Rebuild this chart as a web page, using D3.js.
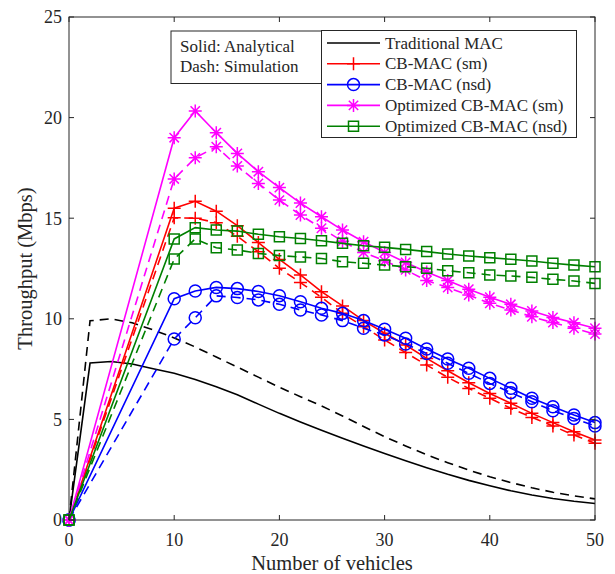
<!DOCTYPE html>
<html>
<head>
<meta charset="utf-8">
<script src="https://cdn.jsdelivr.net/npm/d3@7/dist/d3.min.js"></script>
<style>
  body { margin: 0; background: #fff; }
  text { font-family: "Liberation Serif", "Times New Roman", serif; fill: #262626; }
</style>
</head>
<body>
<div id="chart"></div>
<script>
// x positions
var vehicles = [0, 10, 12, 14, 16, 18, 20, 22, 24, 26, 28, 30, 32, 34, 36, 38, 40, 42, 44, 46, 48, 50];
var tradVehicles = [0, 2, 4, 6, 8, 10, 12, 14, 16, 18, 20, 22, 24, 26, 28, 30, 32, 34, 36, 38, 40, 42, 44, 46, 48, 50];

// Traditional MAC
var tradAna = [0, 7.8, 7.88, 7.75, 7.52, 7.29, 6.98, 6.62, 6.22, 5.76, 5.3, 4.87, 4.46, 4.06, 3.68, 3.31, 2.95, 2.6, 2.27, 1.97, 1.7, 1.45, 1.24, 1.07, 0.93, 0.82];
var tradSim = [0, 9.9, 10.0, 9.8, 9.45, 9.05, 8.6, 8.1, 7.6, 7.1, 6.6, 6.13, 5.67, 5.17, 4.65, 4.14, 3.68, 3.24, 2.85, 2.48, 2.15, 1.86, 1.6, 1.38, 1.2, 1.05];

// CB-MAC (sm)
var smAna = [0, 15.5, 15.84, 15.35, 14.63, 13.79, 12.95, 12.18, 11.35, 10.64, 9.91, 9.28, 8.7, 8.03, 7.42, 6.82, 6.29, 5.8, 5.3, 4.84, 4.39, 3.98];
var smSim = [0, 15.02, 15.0, 14.78, 14.1, 13.33, 12.51, 11.8, 11.07, 10.27, 9.61, 8.95, 8.32, 7.7, 7.09, 6.54, 6.05, 5.55, 5.1, 4.67, 4.22, 3.81];

// CB-MAC (nsd)
var nsdAna = [0, 11.0, 11.38, 11.56, 11.5, 11.36, 11.15, 10.85, 10.52, 10.27, 9.91, 9.48, 9.03, 8.5, 8.0, 7.54, 7.04, 6.55, 6.05, 5.63, 5.22, 4.84];
var nsdSim = [0, 9.0, 10.05, 11.14, 11.06, 10.94, 10.72, 10.44, 10.19, 9.91, 9.53, 9.2, 8.75, 8.28, 7.79, 7.29, 6.79, 6.33, 5.88, 5.43, 5.05, 4.67];

// Optimized CB-MAC (sm)
var optSmAna = [0, 19.0, 20.33, 19.25, 18.22, 17.31, 16.52, 15.75, 15.07, 14.41, 13.83, 13.3, 12.8, 12.33, 11.9, 11.47, 11.07, 10.72, 10.39, 10.07, 9.8, 9.53];
var optSmSim = [0, 16.95, 18.0, 18.55, 17.6, 16.73, 15.9, 15.16, 14.5, 13.85, 13.3, 12.88, 12.43, 11.9, 11.55, 11.18, 10.77, 10.44, 10.1, 9.81, 9.53, 9.24];

// Optimized CB-MAC (nsd)
var optNsdAna = [0, 13.97, 14.53, 14.41, 14.36, 14.2, 14.08, 13.99, 13.88, 13.75, 13.63, 13.55, 13.45, 13.34, 13.22, 13.12, 13.04, 12.96, 12.87, 12.76, 12.67, 12.59];
var optNsdSim = [0, 12.97, 13.97, 13.53, 13.42, 13.25, 13.14, 13.07, 13.0, 12.84, 12.76, 12.67, 12.59, 12.51, 12.39, 12.29, 12.18, 12.13, 12.06, 11.96, 11.88, 11.76];

var xTicks = [0, 10, 20, 30, 40, 50];
var yTicks = [0, 5, 10, 15, 20, 25];
var legendNames = ["Traditional MAC", "CB-MAC (sm)", "CB-MAC (nsd)", "Optimized CB-MAC (sm)", "Optimized CB-MAC (nsd)"];
var noteLines = ["Solid: Analytical", "Dash: Simulation"];

var W = 615, H = 574;
var margin = {top: 17, right: 20, bottom: 54, left: 69};
var width = W - margin.left - margin.right,
    height = H - margin.top - margin.bottom;

var svg = d3.select("#chart").append("svg")
    .attr("width", W).attr("height", H);

var g = svg.append("g")
    .attr("transform", "translate(" + margin.left + "," + margin.top + ")");

var x = d3.scaleLinear().domain([0, 50]).range([0, width]);
var y = d3.scaleLinear().domain([0, 25]).range([height, 0]);

// marker shapes
function markerPath(type, s) {
  var h = s / 2;
  if (type == "plus") return "M" + (-h) + ",0H" + h + "M0," + (-h) + "V" + h;
  if (type == "star") {
    var d = h * 0.72;
    return "M" + (-h) + ",0H" + h + "M0," + (-h) + "V" + h +
      "M" + (-d) + "," + (-d) + "L" + d + "," + d + "M" + (-d) + "," + d + "L" + d + "," + (-d);
  }
  if (type == "square") return "M" + (-h) + "," + (-h) + "H" + h + "V" + h + "H" + (-h) + "Z";
  if (type == "circle") return "M" + h + ",0A" + h + "," + h + " 0 1,1 " + (-h) + ",0A" + h + "," + h + " 0 1,1 " + h + ",0Z";
  return "";
}

var series = [
  {xs: tradVehicles, ys: tradAna, color: "#000000", dash: null, marker: null},
  {xs: tradVehicles, ys: tradSim, color: "#000000", dash: "9,6", marker: null},
  {xs: vehicles, ys: smAna, color: "#ff0000", dash: null, marker: "plus", size: 13},
  {xs: vehicles, ys: smSim, color: "#ff0000", dash: "9,6", marker: "plus", size: 13},
  {xs: vehicles, ys: nsdAna, color: "#0000ff", dash: null, marker: "circle", size: 12},
  {xs: vehicles, ys: nsdSim, color: "#0000ff", dash: "9,6", marker: "circle", size: 12},
  {xs: vehicles, ys: optSmAna, color: "#ff00ff", dash: null, marker: "star", size: 13},
  {xs: vehicles, ys: optSmSim, color: "#ff00ff", dash: "9,6", marker: "star", size: 13},
  {xs: vehicles, ys: optNsdAna, color: "#008000", dash: null, marker: "square", size: 10},
  {xs: vehicles, ys: optNsdSim, color: "#008000", dash: "9,6", marker: "square", size: 10}
];

var line = d3.line()
    .x(function(d) { return x(d[0]); })
    .y(function(d) { return y(d[1]); });

series.forEach(function(s) {
  var pts = s.xs.map(function(v, i) { return [v, s.ys[i]]; });
  g.append("path")
      .datum(pts)
      .attr("d", line)
      .attr("fill", "none")
      .attr("stroke", s.color)
      .attr("stroke-width", 1.6)
      .attr("stroke-dasharray", s.dash);
  if (s.marker) {
    g.selectAll(null)
      .data(pts)
      .enter()
      .append("path")
        .attr("transform", function(d) { return "translate(" + x(d[0]) + "," + y(d[1]) + ")"; })
        .attr("d", markerPath(s.marker, s.size))
        .attr("fill", "none")
        .attr("stroke", s.color)
        .attr("stroke-width", 1.5);
  }
});

// axes box with inward ticks on all sides
var axisColor = "#262626";
g.append("rect")
    .attr("width", width).attr("height", height)
    .attr("fill", "none").attr("stroke", axisColor).attr("stroke-width", 1);

var tl = 5;
xTicks.forEach(function(t) {
  g.append("line").attr("x1", x(t)).attr("x2", x(t)).attr("y1", height).attr("y2", height - tl).attr("stroke", axisColor);
  g.append("line").attr("x1", x(t)).attr("x2", x(t)).attr("y1", 0).attr("y2", tl).attr("stroke", axisColor);
  g.append("text").attr("x", x(t)).attr("y", height + 26)
    .attr("text-anchor", "middle").attr("font-size", 18).text(t);
});
yTicks.forEach(function(t) {
  g.append("line").attr("x1", 0).attr("x2", tl).attr("y1", y(t)).attr("y2", y(t)).attr("stroke", axisColor);
  g.append("line").attr("x1", width).attr("x2", width - tl).attr("y1", y(t)).attr("y2", y(t)).attr("stroke", axisColor);
  g.append("text").attr("x", -7).attr("y", y(t)).attr("dy", "0.35em")
    .attr("text-anchor", "end").attr("font-size", 18).text(t);
});

svg.append("text")
    .attr("x", margin.left + width / 2).attr("y", 570)
    .attr("text-anchor", "middle").attr("font-size", 20.5)
    .text("Number of vehicles");

svg.append("text")
    .attr("transform", "translate(32," + (margin.top + height / 2) + ") rotate(-90)")
    .attr("text-anchor", "middle").attr("font-size", 20.5)
    .text("Throughput (Mbps)");

// annotation box
svg.append("rect")
    .attr("x", 171).attr("y", 31).attr("width", 170).attr("height", 52.5)
    .attr("fill", "#fff").attr("stroke", axisColor).attr("stroke-width", 1);
noteLines.forEach(function(t, i) {
  svg.append("text").attr("x", 180).attr("y", 52 + i * 20)
    .attr("font-size", 17).text(t);
});

// legend
var leg = svg.append("g");
leg.append("rect")
    .attr("x", 321.5).attr("y", 30.5).attr("width", 255).attr("height", 107)
    .attr("fill", "#fff").attr("stroke", axisColor).attr("stroke-width", 1);
var legSeries = [series[0], series[2], series[4], series[6], series[8]];
legendNames.forEach(function(name, i) {
  var ly = 43 + i * 20.8;
  var s = legSeries[i];
  leg.append("line").attr("x1", 327).attr("x2", 380).attr("y1", ly).attr("y2", ly)
    .attr("stroke", s.color).attr("stroke-width", 1.6);
  if (s.marker) {
    leg.append("path").attr("transform", "translate(353.5," + ly + ")")
      .attr("d", markerPath(s.marker, s.size))
      .attr("fill", "none").attr("stroke", s.color).attr("stroke-width", 1.5);
  }
  leg.append("text").attr("x", 385).attr("y", ly).attr("dy", "0.33em")
    .attr("font-size", 17).text(name);
});
</script>
</body>
</html>
